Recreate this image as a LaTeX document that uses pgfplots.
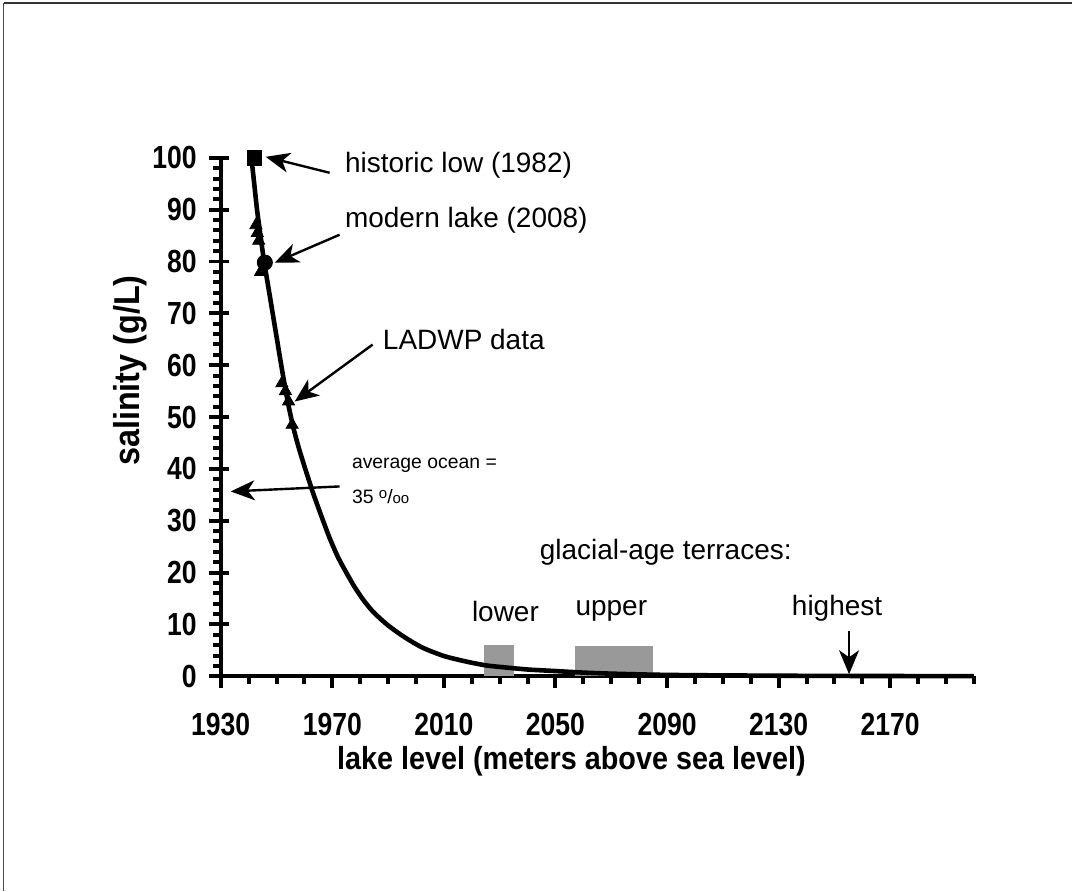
\documentclass[border=0pt]{standalone}
\usepackage{pgfplots}
\pgfplotsset{compat=1.18}
\usepackage{fontspec}
\setmainfont{Liberation Sans}
\newfontfamily\condensed{Liberation Sans}[FakeStretch=0.9]
\newfontfamily\tickfont{Liberation Sans}[FakeStretch=0.83]
\usetikzlibrary{arrows.meta}

\pgfplotstableread{
x y
1941 100
1942 95
1943 90
1944 86
1945 82
1946 78.5
1948 72
1950 65.5
1952 59
1954 53
1956 48
1958 44
1960 40.5
1963 35.5
1966 31
1969 26.7
1972 23
1975 20
1978 17.2
1981 14.8
1984 12.8
1987 11.2
1990 9.8
1993 8.6
1996 7.5
1999 6.5
2002 5.6
2005 4.9
2010 3.9
2015 3.2
2020 2.6
2025 2.1
2030 1.8
2040 1.3
2050 1.0
2060 0.7
2070 0.5
2085 0.3
2100 0.2
2130 0.1
2160 0.05
2200 0.02
}\curve

\pgfplotstableread{
x y
1942.6 87
1943.1 85.5
1943.6 84
1944.3 78
1951.9 56.5
1953.2 55
1954.3 53
1955.6 48.5
}\ladwp

\begin{document}
\begin{tikzpicture}
\begin{scope}[x=0.5pt,y=-0.5pt,shift={(-110.5pt,338.5pt)}]
\path[use as bounding box] (0,0) rectangle (1073,892);
\end{scope}
\begin{axis}[
  at={(0,0)}, anchor=south west,
  scale only axis, width=377pt, height=259.5pt,
  xmin=1930, xmax=2200, ymin=0, ymax=100,
  axis lines=left,
  axis line style={-, line width=2pt},
  clip=false,
  xtick={1930,1970,...,2170},
  minor xtick={1930,1940,...,2200},
  ytick={0,10,...,100},
  minor ytick={0,2,...,100},
  tick align=outside,
  major tick length=6pt,
  minor tick length=4pt,
  every tick/.style={black, line width=2pt},
  extra y ticks={0,10,...,100},
  extra y tick labels={},
  extra y tick style={tick align=inside, major tick length=4pt},
  /pgf/number format/assume math mode=true,
  /pgf/number format/1000 sep={},
  tick label style={font=\tickfont\bfseries\fontsize{16}{18}\selectfont},
  xticklabel style={yshift=-9pt},
  yticklabel style={xshift=-2.5pt},
]
\addplot[draw=none, fill=black!40] coordinates {(2024.3,0) (2024.3,6) (2035,6) (2035,0)} -- cycle;
\addplot[draw=none, fill=black!40] coordinates {(2057,0) (2057,5.9) (2085,5.9) (2085,0)} -- cycle;
\addplot[black, line width=2.3pt, smooth, tension=0.4, no marks] table {\curve};
\addplot[only marks, mark=triangle*, mark size=3.5pt, black] table {\ladwp};
\addplot[only marks, mark=square*, mark size=3.6pt, black] coordinates {(1942,100)};
\addplot[only marks, mark=*, mark size=3.8pt, black] coordinates {(1945.8,79.8)};
\end{axis}
\begin{scope}[x=0.5pt,y=-0.5pt,shift={(-110.5pt,338.5pt)}]
\draw[black!80, line width=1.2pt] (4,3) -- (1073,3);
\draw[black!70, line width=0.5pt] (4,3) -- (4,892);
\tikzset{arr/.style={-{Stealth[length=12pt,width=10pt,inset=3.5pt]}, line width=1.2pt}}
\draw[arr] (330,173) -- (266,157);
\draw[arr] (340,235) -- (275,263);
\draw[arr] (373,345) -- (295,402);
\draw[arr] (340,487) -- (231,492);
\draw[arr] (850,632) -- (850,675);
\tikzset{lab/.style={font=\fontsize{14}{16}\selectfont, inner sep=0pt}}
\node[lab, anchor=west] at (345,165) {historic low (1982)};
\node[lab, anchor=west] at (345,221) {modern lake (2008)};
\node[lab, anchor=west] at (383,340) {LADWP data};
\node[lab, anchor=west] at (540,553) {glacial-age terraces:};
\node[lab] at (506,612) {lower};
\node[lab] at (612,612) {upper};
\node[lab] at (838,609) {highest};
\node[font=\fontsize{9.7}{11}\selectfont, inner sep=0pt, anchor=west] at (352,466) {average ocean =};
\node[font=\fontsize{9.7}{11}\selectfont, inner sep=0pt, anchor=west] at (352,497) {35 \raisebox{0.5ex}{\fontsize{7.5}{8}\selectfont o}/\fontsize{7.5}{8}\selectfont oo};
\node[font=\condensed\bfseries\fontsize{16}{18}\selectfont, inner sep=0pt] at (572,762) {lake level (meters above sea level)};
\node[font=\condensed\bfseries\fontsize{18}{20}\selectfont, inner sep=0pt, rotate=90] at (130,371) {salinity (g/L)};
\end{scope}
\end{tikzpicture}
\end{document}
